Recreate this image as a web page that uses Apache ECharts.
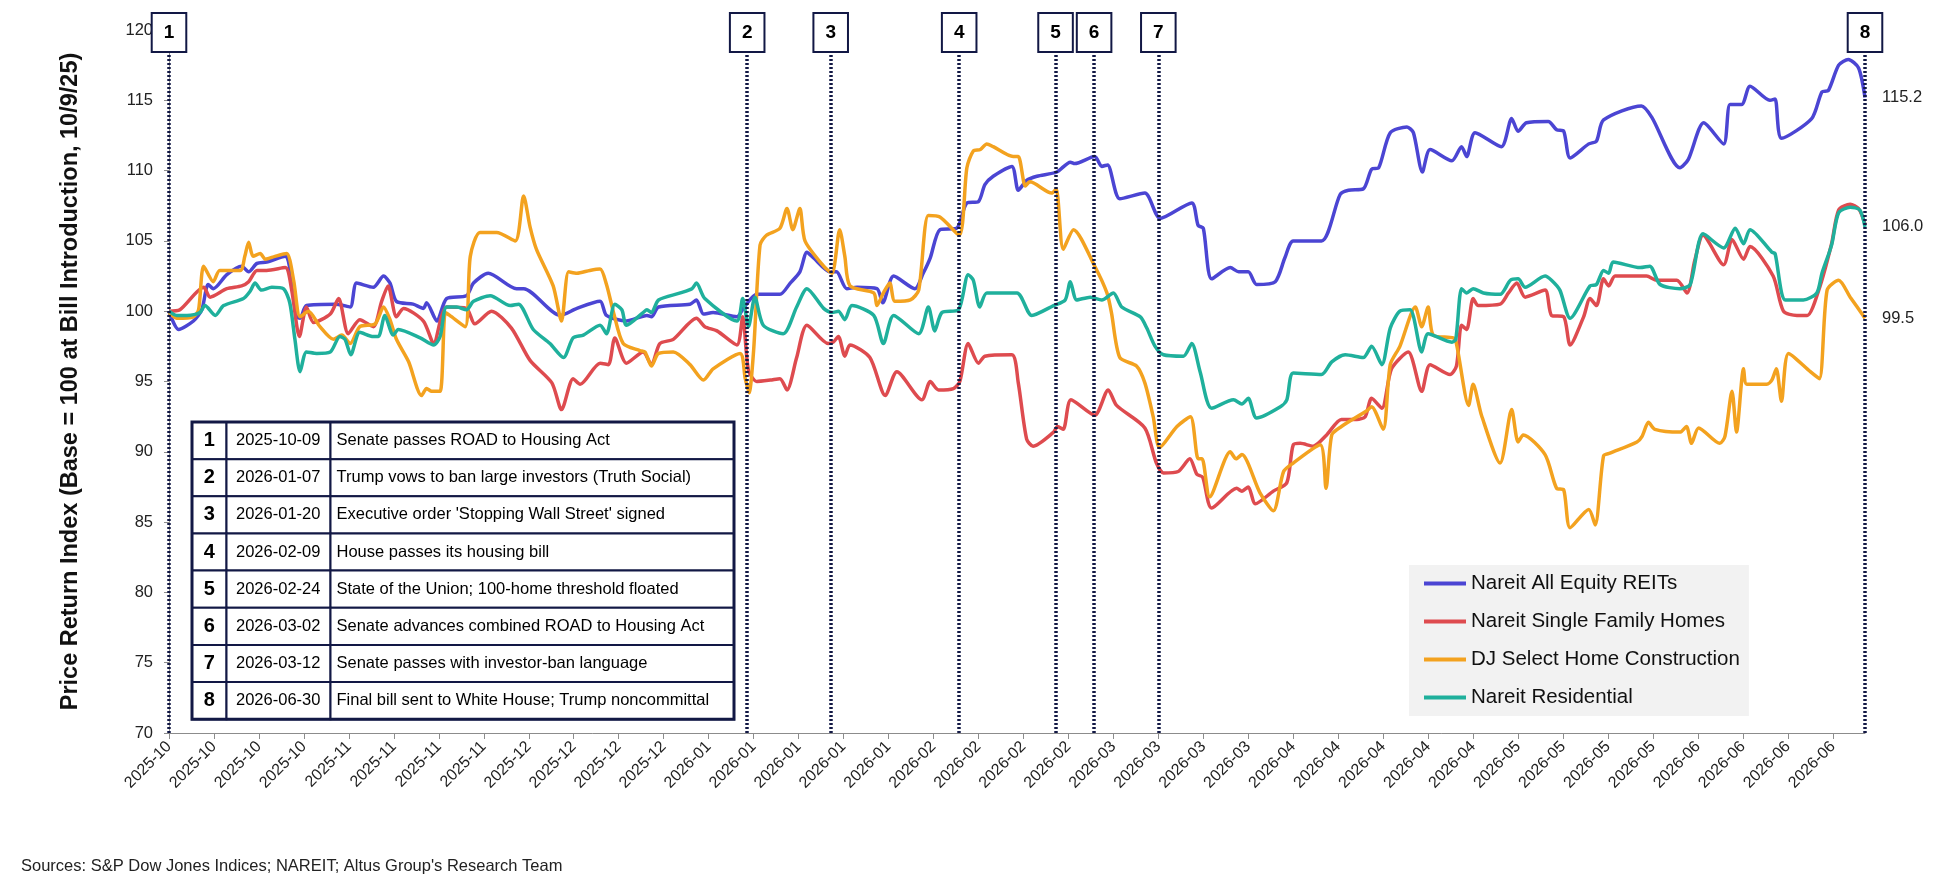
<!DOCTYPE html>
<html>
<head>
<meta charset="utf-8">
<script src="https://cdn.jsdelivr.net/npm/echarts@6/dist/echarts.min.js"></script>
<style>
  html, body { margin: 0; padding: 0; background: #fff; }
  #chart { width: 1947px; height: 883px; }
</style>
</head>
<body>
<div id="chart"></div>
<script>
// x values are days since the bill introduction (2025-10-09)
const baseDate = '2025-10-09';
const seriesNames = ['Nareit All Equity REITs', 'Nareit Single Family Homes', 'DJ Select Home Construction', 'Nareit Residential'];

const reitsPts = [[0,100],[1.5,98.7],[3.8,99.3],[5.1,100.1],[6.1,101.9],[6.9,101.6],[9,102.6],[11.3,103.2],[12.4,102.8],[13.7,103.4],[15.2,103.5],[18.1,103.9],[19,102.5],[19.9,99.6],[20.4,99.5],[21.4,100.4],[26.1,100.5],[28.2,100.3],[29.2,102],[31.8,101.7],[33.4,102.5],[34.4,102],[35.4,100.7],[38,100.5],[39.6,100.2],[40.1,100.6],[41.7,99.3],[43.2,100.9],[46.3,101.1],[47.4,102],[49.7,102.7],[54.1,101.6],[55.2,101.6],[60.9,99.7],[63.5,100.2],[67.1,100.7],[68.1,99.7],[71.2,99.3],[74.4,99.7],[75.1,99.6],[76.2,100.3],[81.1,100.5],[82.1,100.8],[83.2,99.8],[84.7,99.9],[88.4,99.6],[89.4,100.2],[91.5,101.2],[95.1,101.2],[96.7,102],[98.2,102.8],[99.3,104.2],[100.3,103.8],[102.9,102.8],[103.9,102.8],[105.5,101.6],[107.1,101.7],[110.2,101.6],[111.1,100.6],[112.8,102.5],[116.1,101.6],[117.4,102.7],[118.5,103.8],[120,105.8],[122.6,105.9],[124.2,107.7],[126,107.8],[127,109],[128.3,109.6],[131.2,110.3],[132.2,108.6],[133.5,109.3],[135.1,109.6],[138.2,109.9],[140.3,110.6],[141,110.5],[144.1,111],[145.2,110.3],[146.1,110.4],[148,108],[151.9,108.4],[154.3,106.6],[159.2,107.7],[160.2,106.1],[161,105.9],[162.3,102.3],[165.2,103.1],[166.5,102.8],[168,102.8],[169.3,101.9],[172.2,102.1],[173.7,103.8],[175,105],[179.4,105],[182.3,108.3],[183.6,108.6],[185.9,108.7],[187.2,110.1],[188.3,110.2],[190.1,112.7],[192.7,113.1],[193.7,112.7],[195.1,109.9],[196.3,111.5],[199.7,110.7],[201.2,111.7],[202,111],[203.3,112.7],[207.4,111.7],[209,113.7],[210,112.8],[211.3,113.4],[214.7,113.5],[216,112.9],[217.1,112.8],[218.1,110.9],[221,111.9],[222.2,112.1],[223.3,113.6],[229.2,114.6],[230.8,113.8],[235.2,110.2],[236.5,110.8],[238.9,113.4],[242,111.9],[243,114.7],[244.8,114.7],[246.1,116],[249.2,115],[250,115.1],[251,112.3],[255.7,113.7],[257.3,115.6],[258.3,115.7],[259.9,117.5],[261.4,117.9],[263,117.3],[264,115.2]];

const sfhPts = [[0,100],[1.7,100.1],[5.4,101.7],[6.4,101],[9,101.6],[11.3,101.8],[12.4,102.1],[13.7,102.9],[15.2,102.9],[18.1,103.1],[19.1,101.5],[20.3,98.2],[21.4,100.3],[22.5,99.2],[25.1,99.8],[26.4,100.9],[27.9,98.4],[29.7,99.4],[31.8,98.9],[33.1,100.7],[34.1,101.8],[35.4,99.6],[36.5,100.2],[39.6,99.3],[41.2,97.7],[42.4,99.6],[43.2,100.3],[46.3,100.2],[47.6,99.1],[50.2,100],[53.3,98.8],[56.2,96.5],[59.6,94.9],[61.1,93],[62.9,95.2],[64,94.8],[67.1,96.3],[68.4,96.2],[69.4,98.1],[71.2,96.3],[73.8,97.1],[75.1,96.2],[76.4,97.7],[78.5,98],[82.1,99.5],[83.4,98.9],[85.3,98.6],[88.4,97.6],[89.3,99.6],[90.2,95.8],[91.5,95],[93.6,95.1],[95.1,95.2],[96.2,94.4],[97.7,96.7],[99.3,99],[102.6,97.7],[103.4,97.8],[104.2,98.2],[105.2,96.8],[106,97.6],[109.1,96.7],[111.5,94],[113.3,95.7],[117.2,93.7],[118.5,95],[119.8,94.4],[122.1,94.5],[123.1,95],[124.4,97.7],[126,96.3],[127,96.8],[131.2,96.9],[132.2,94.9],[133.5,90.9],[134.5,90.4],[137.7,91.4],[138.3,91.8],[139.2,91.6],[140.4,93.7],[144.1,92.6],[146.2,94.4],[147.5,93.3],[151.9,91.7],[153.7,89.2],[154.8,88.5],[157.1,88.6],[158.9,89.5],[160,88.4],[160.9,88.2],[162.3,86],[166.2,87.4],[167,87.2],[168,87.5],[169.1,86.3],[171.9,87.2],[174,87.8],[175,90.5],[176.1,90.6],[178.1,90.4],[180.2,91.2],[182.5,92.3],[184.9,92.3],[186.2,92.5],[187.2,93.8],[188.8,93.1],[190.3,95.9],[192.9,97.1],[195,94.3],[196.3,96.2],[199.4,95.5],[200.4,96.1],[201.2,99],[202,98.7],[203,100.9],[203.8,100.4],[207.2,100.5],[208.5,101.3],[209.8,102],[211.1,101],[214.2,101.5],[215.2,99.7],[217.1,99.6],[218.1,97.6],[220.2,99.6],[221.2,100.9],[222.2,100.4],[223.3,102.3],[224.1,101.8],[225.1,102.5],[230,102.5],[231.6,102.2],[234.7,102.2],[236.3,101.3],[237.5,103.6],[238.8,105.4],[242,103.3],[243.3,105.1],[245.1,103.7],[246.1,104.6],[249.7,102.5],[251.3,100],[253.4,99.7],[255,99.7],[256.8,101.5],[258.8,104.8],[259.9,107.2],[261.7,107.6],[263,107.3],[264,106.2]];

const djhcPts = [[0,99.9],[1.2,99.5],[3.8,99.6],[4.6,100.1],[5.4,103.2],[6.9,102.1],[7.9,102.9],[11.1,102.9],[11.8,103.9],[12.4,104.9],[13.1,103.9],[14.2,104.1],[15,103.7],[16.5,103.9],[18.3,104.1],[19.4,102.2],[20.4,99.6],[21.7,100],[23.5,98.9],[25.6,98],[26.9,98.3],[28.2,97.7],[29.7,98.9],[32.1,99.1],[33.4,100.3],[34.4,99.4],[35.4,98],[37.3,96.4],[39.3,94],[40.1,94.5],[40.9,94.3],[42.2,94.3],[43,99.9],[43.7,99.7],[46.1,98.9],[46.9,103.9],[48.4,105.6],[51,105.6],[53.9,105],[55.2,108.2],[56.2,106],[57.2,104.4],[59.8,101.8],[61.1,99.3],[62.2,102.8],[63.5,102.7],[65.5,102.9],[67.1,103],[68.1,101.9],[69.2,99.9],[70.7,97.7],[73.3,97.2],[74.1,97.1],[75.1,96.1],[76.2,97],[78.5,97.1],[81.1,96.2],[83.2,95.1],[84.7,95.9],[88.9,97],[89.7,95.2],[90.3,94.2],[91,97.2],[92,104.7],[93,105.4],[95.1,105.9],[96.2,107.3],[97.1,105.8],[98.2,107.3],[99,105],[101.9,103.2],[103.2,102.7],[104.4,105.8],[105.2,103.9],[106,101.8],[109.7,101.3],[110.2,100.4],[111.2,101.3],[112.2,102],[113,100.7],[115.4,100.8],[116.7,101.5],[118.2,106.8],[120,106.7],[123,105.4],[124.2,110.2],[125.2,111.4],[126.3,111.5],[127.3,111.9],[128.3,111.7],[131.4,111],[132.2,111],[133.3,108.9],[134,109.2],[137.4,108.4],[138.1,108.7],[139.2,104.4],[140.8,105.8],[144.1,103.2],[146,101.3],[146.7,99.9],[148,96.7],[150.6,96.1],[151.9,94.9],[153.2,92.5],[154.2,90.3],[156.9,91.8],[159,92.5],[160.2,89.5],[160.8,89.5],[162,86.8],[165.2,90],[166.1,89.5],[167,89.8],[169.8,87.1],[171.9,85.8],[173.5,88.6],[175,89.2],[179.2,90.5],[180.1,87.4],[181,91.2],[182.5,91.8],[186.4,92.9],[187.2,93.2],[189,91.6],[190.1,96.2],[191.6,97.5],[194,100.3],[195,98.9],[196,100.3],[196.8,98.3],[199.9,98.1],[200.4,97.7],[202.3,93.3],[203,94.8],[204.3,92.6],[207.2,89.2],[209,93],[210,90.7],[210.8,91.2],[214.2,89.8],[216,87.4],[217.1,87.3],[218.1,84.6],[221,85.9],[222,84.8],[223.3,89.7],[224.3,89.9],[228.5,90.7],[229.3,91.1],[230.3,92.1],[231.3,91.6],[235.2,91.4],[236.2,91.8],[237,90.6],[238.1,91.7],[241.4,90.6],[242.2,91.1],[243.3,94.3],[244,91.4],[245.1,95.9],[245.6,94.8],[248.7,94.8],[249.5,95.1],[250.2,95.9],[251,93.6],[252.1,97],[255.5,95.7],[256.9,95.2],[258.1,101.5],[259.9,102.2],[261.7,101],[264,99.5]];

const resPts = [[0,100],[1.2,99.7],[2.8,99.7],[4.8,99.9],[5.6,100.4],[7.2,99.7],[8.5,100.4],[11.6,100.9],[12.6,101.4],[13.4,102],[14.4,101.5],[16,101.7],[17.8,101.6],[18.8,100.6],[19.6,98],[20.4,95.7],[21.4,97.1],[23,97],[25.1,97.1],[26.6,98.2],[27.4,98],[28.3,96.9],[29.7,98.5],[31.8,98.2],[32.6,98.2],[33.6,99.7],[34.9,98.3],[35.7,98.7],[39.1,98.1],[41.2,97.6],[42.2,98.2],[43.2,100.3],[44.8,100.3],[46.3,100.1],[47.4,100.7],[50,101.1],[53.1,100.4],[54.4,100.5],[56.7,98.7],[59.3,97.7],[61.4,96.7],[62.9,98.1],[64.5,98.3],[67.1,99],[68.1,98.4],[69.4,100.5],[70.5,100.1],[71.2,99],[73.8,99.9],[74.4,100.1],[75.1,99.9],[76.2,100.8],[79.6,101.3],[81.4,101.6],[82.1,102],[83.4,100.9],[88.4,99.3],[89.3,100.9],[90.2,98.9],[91.2,101],[92.5,99],[95.6,98.4],[97.7,100.3],[99.3,101.6],[101.9,100.2],[103.2,99.9],[104.2,100],[105.2,99.4],[106.3,100.4],[109.7,99.7],[111.2,97.7],[112.8,99.7],[116.7,98.4],[118.2,100.3],[119.2,98.6],[120.3,99.9],[122.9,100.1],[124.4,102.6],[125.2,102.2],[126.2,100.3],[127.3,101.3],[132,101.3],[134.3,99.7],[137.7,100.4],[139.5,100.8],[140.3,102.1],[141.3,100.8],[143.4,101],[145.2,100.8],[147,101.3],[148.3,100.3],[151.2,99.6],[152.2,98.8],[153.5,97.5],[154.8,96.9],[157.9,96.8],[159.2,97.7],[160.5,95.7],[162.3,93.1],[165.7,93.7],[167,93.4],[168,93.8],[169.3,92.4],[173,93.2],[174,93.7],[175,95.6],[179.4,95.5],[181,96.4],[183.1,96.9],[185.9,96.7],[187.2,97.5],[188.8,96.2],[190.1,98.8],[191.6,100],[193.2,100.1],[195,97.1],[196,98.4],[199.7,97.8],[200.3,98],[201.2,101.6],[202,101.3],[203,101.6],[204.6,101.3],[207.2,101.2],[208.8,102.2],[210,102.3],[211.1,101.7],[214.2,102.5],[215.2,102.2],[216.5,101.5],[218.1,99.5],[221.2,101.8],[222.2,101.9],[223.3,102.9],[224.1,102.7],[224.8,103.5],[229,103.1],[230.5,103.2],[232.1,101.9],[235.2,101.6],[236.8,101.9],[238.8,105.5],[242,104.5],[243.8,105.9],[245.1,104.8],[246.1,105.8],[249.5,104.2],[250,104.1],[251.6,100.8],[254.4,100.8],[256.5,101.3],[257.3,102.7],[258.8,104.7],[259.9,107],[261.7,107.4],[263.2,107.2],[264,106]];

const eventNums = ['1', '2', '3', '4', '5', '6', '7', '8'];
const eventDates = ['2025-10-09', '2026-01-07', '2026-01-20', '2026-02-09', '2026-02-24', '2026-03-02', '2026-03-12', '2026-06-30'];
const eventTexts = [
    'Senate passes ROAD to Housing Act',
    'Trump vows to ban large investors (Truth Social)',
    "Executive order 'Stopping Wall Street' signed",
    'House passes its housing bill',
    'State of the Union; 100-home threshold floated',
    'Senate advances combined ROAD to Housing Act',
    'Senate passes with investor-ban language',
    'Final bill sent to White House; Trump noncommittal'
];

const FONT = '"Liberation Sans", Arial, sans-serif';
const NAVY = '#121845';

let toUTC = (s) => {
    let p = s.split('-').map(Number);
    return Date.UTC(p[0], p[1] - 1, p[2]);
};
let dayOf = (s) => (toUTC(s) - toUTC(baseDate)) / 864e5;
let monthLabel = (d) => {
    let dt = new Date(toUTC(baseDate) + d * 864e5);
    let m = dt.getUTCMonth() + 1;
    return dt.getUTCFullYear() + '-' + (m < 10 ? '0' + m : m);
};

var dom = document.getElementById('chart');
var chart = echarts.init(dom, null, { renderer: 'canvas' });

// event table (drawn with graphic elements)
let tableGraphic = () => {
    let els = [];
    let x0 = 192, y0 = 422, rowH = 37.15;
    let colX = [192, 226.5, 330.5, 734];
    eventNums.forEach((n, i) => {
        let y = y0 + i * rowH;
        for (let c = 0; c < 3; c++) {
            els.push({
                type: 'rect', z: 50,
                shape: { x: colX[c], y: y, width: colX[c + 1] - colX[c], height: rowH },
                style: { fill: '#fff', stroke: NAVY, lineWidth: 2 }
            });
        }
        let cy = y + rowH / 2;
        els.push({
            type: 'text', z: 51, x: (colX[0] + colX[1]) / 2, y: cy,
            style: { text: n, fill: '#000', font: 'bold 20px ' + FONT, align: 'center', verticalAlign: 'middle', textAlign: 'center', textVerticalAlign: 'middle' }
        });
        els.push({
            type: 'text', z: 51, x: colX[1] + 9.5, y: cy,
            style: { text: eventDates[i], fill: '#000', font: '16.5px ' + FONT, align: 'left', verticalAlign: 'middle', textAlign: 'left', textVerticalAlign: 'middle' }
        });
        els.push({
            type: 'text', z: 51, x: colX[2] + 6, y: cy,
            style: { text: eventTexts[i], fill: '#000', font: '16.5px ' + FONT, align: 'left', verticalAlign: 'middle', textAlign: 'left', textVerticalAlign: 'middle' }
        });
    });
    els.push({
        type: 'rect', z: 52,
        shape: { x: x0, y: y0, width: colX[3] - x0, height: rowH * eventNums.length },
        style: { fill: 'none', stroke: NAVY, lineWidth: 3 }
    });
    els.push({
        type: 'text', z: 51, x: 21, y: 866,
        style: { text: "Sources: S&P Dow Jones Indices; NAREIT; Altus Group's Research Team", fill: '#222', font: '16.5px ' + FONT, align: 'left', verticalAlign: 'middle', textAlign: 'left', textVerticalAlign: 'middle' }
    });
    return els;
};

let endLabel = (show) => ({
    show: show,
    distance: 17,
    fontSize: 16.5,
    fontFamily: FONT,
    color: '#222',
    formatter: (p) => p.value[1].toFixed(1)
});

let lineSeries = (name, data, color, show) => ({
    name: name,
    type: 'line',
    data: data,
    smooth: 0.25,
    showSymbol: false,
    symbol: 'none',
    lineStyle: { width: 3.5, color: color },
    itemStyle: { color: color },
    endLabel: endLabel(show),
    labelLayout: { hideOverlap: false },
    animation: false
});

var series = [
    lineSeries(seriesNames[0], reitsPts, '#4b45d3', true),
    lineSeries(seriesNames[1], sfhPts, '#de4b4f', false),
    lineSeries(seriesNames[2], djhcPts, '#f3a21f', true),
    lineSeries(seriesNames[3], resPts, '#1fb09c', true)
];

// event markers on top of the last series
series[3].markLine = {
    silent: true,
    symbol: 'none',
    animation: false,
    lineStyle: { color: NAVY, width: 3.5, type: [2, 2] },
    label: {
        show: true,
        position: 'end',
        distance: 0,
        formatter: '{b}',
        backgroundColor: '#fff',
        borderColor: NAVY,
        borderWidth: 2,
        padding: [10, 11, 9, 11],
        fontSize: 19,
        lineHeight: 18,
        fontWeight: 'bold',
        fontFamily: FONT,
        color: '#000'
    },
    emphasis: { disabled: true },
    data: eventDates.map((d, i) => [
        { name: eventNums[i], coord: [dayOf(d), 70] },
        { coord: [dayOf(d), 118.5] }
    ])
};

var option = {
    animation: false,
    textStyle: { fontFamily: FONT },
    grid: { left: 169, right: 82, top: 30, bottom: 150 },
    legend: {
        data: seriesNames,
        orient: 'vertical',
        left: 1409,
        top: 565,
        backgroundColor: '#f2f2f2',
        padding: [8, 9, 8, 15],
        icon: 'rect',
        itemWidth: 42,
        itemHeight: 4,
        itemGap: 17,
        selectedMode: false,
        textStyle: { fontSize: 20.5, lineHeight: 20, color: '#111', fontFamily: FONT }
    },
    xAxis: {
        type: 'value',
        min: 0,
        max: 264,
        interval: 7,
        splitLine: { show: false },
        axisLine: { lineStyle: { color: '#8c8c8c', width: 1 } },
        axisTick: { length: 6, lineStyle: { color: '#8c8c8c' } },
        axisLabel: {
            rotate: 45,
            margin: 11,
            fontSize: 16,
            color: '#222',
            fontFamily: FONT,
            showMaxLabel: false,
            formatter: (v) => monthLabel(v)
        }
    },
    yAxis: {
        type: 'value',
        min: 70,
        max: 120,
        interval: 5,
        name: 'Price Return Index (Base = 100 at Bill Introduction, 10/9/25)',
        nameLocation: 'middle',
        nameGap: 86,
        nameTextStyle: { fontSize: 23.5, fontWeight: 'bold', color: '#111', fontFamily: FONT },
        splitLine: { show: false },
        axisLine: { show: true, lineStyle: { color: '#8c8c8c', width: 1 } },
        axisTick: { show: true, length: 5, lineStyle: { color: '#8c8c8c' } },
        axisLabel: { margin: 16, fontSize: 16.5, color: '#222', fontFamily: FONT }
    },
    series: series,
    graphic: tableGraphic()
};

if (option && typeof option === 'object') {
    chart.setOption(option);
}
window.addEventListener('resize', chart.resize);
</script>
</body>
</html>
